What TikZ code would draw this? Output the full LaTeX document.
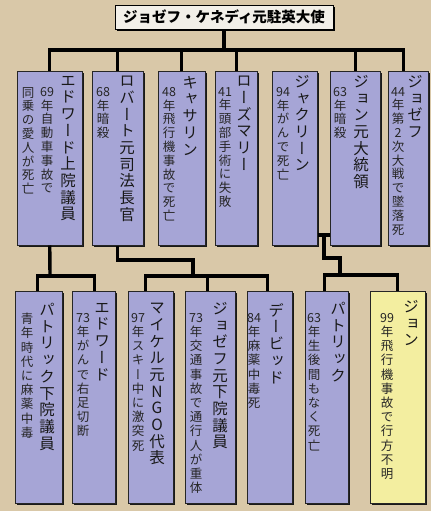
\documentclass[tikz,border=0pt]{standalone}
\usepackage{fontspec}
\newfontfamily\jfont{Noto Sans CJK JP}
\newfontfamily\tfont[RawFeature=+vert]{Noto Sans CJK JP}
\usetikzlibrary{shadows}

\definecolor{paper}{HTML}{D9C8A8}
\definecolor{lav}{HTML}{A6A5D6}
\definecolor{lemon}{HTML}{F3EEA0}
\definecolor{titlebg}{HTML}{F2EFE8}

% vertical (tategaki) column: one character per line
\makeatletter
\newcommand\tate[1]{\vtop{\lineskiplimit=-\maxdimen\lineskip=0pt
  \@tfor\tch:=#1\do{\hbox to 1.3em{\hss\tch\hss}}}}
\makeatother

\tikzset{
  famline/.style={line width=3.4pt},
  kbox/.style={draw=black!85, line width=0.5pt, fill=lav, inner sep=0pt, anchor=north west,
    drop shadow={shadow xshift=2.2pt, shadow yshift=-2.2pt, fill=black!90, opacity=1}},
  kname/.style={anchor=north, inner sep=0pt, text=black!90,
    font=\tfont\fontsize{15.5}{16.7}\selectfont},
  knote/.style={anchor=north, inner sep=0pt, text=black!85,
    font=\tfont\fontsize{12.5}{#1}\selectfont},
  knote/.default=13.8
}

\begin{document}
\begin{tikzpicture}[x=1pt,y=-1pt]
  \fill[paper] (0,0) rectangle (431,511);
  \useasboundingbox (0,0) rectangle (431,511);

  % father
  \node[draw=black, line width=0.6pt, fill=titlebg, minimum width=218, minimum height=24,
    inner sep=0pt, drop shadow={shadow xshift=2.2pt, shadow yshift=-2.2pt, fill=black, opacity=1},
    font=\jfont\bfseries\fontsize{14.5}{16}\selectfont] (title) at (224,17) {ジョゼフ・ケネディ元駐英大使};

  % children
  \node[kbox, minimum width=65, minimum height=174] (edward) at (17,71) {};
  \node[kbox, minimum width=51, minimum height=174] (robert) at (92,71) {};
  \node[kbox, minimum width=47, minimum height=174] (kathleen) at (158,71) {};
  \node[kbox, minimum width=42, minimum height=174] (rosemary) at (215,71) {};
  \node[kbox, minimum width=45, minimum height=174] (jacqueline) at (272,71) {};
  \node[kbox, minimum width=50, minimum height=174] (john) at (330,71) {};
  \node[kbox, minimum width=40, minimum height=174] (joseph) at (388,71) {};

  \node[kname] (edwardN) at (68,76) {\tate{エドワード上院議員}};
  \node[knote] (edwardD) at (47,87) {\tate{{69}年自動車事故で}};
  \node[knote] (edwardE) at (28,87) {\tate{同乗の愛人が死亡}};
  \node[kname] (robertN) at (127,76) {\tate{ロバート元司法長官}};
  \node[knote] (robertD) at (103,87) {\tate{{68}年暗殺}};
  \node[kname] (kathleenN) at (190,76) {\tate{キャサリン}};
  \node[knote] (kathleenD) at (169,87) {\tate{{48}年飛行機事故で死亡}};
  \node[kname] (rosemaryN) at (244,76) {\tate{ローズマリー}};
  \node[knote] (rosemaryD) at (225,87) {\tate{{41}年頭部手術に失敗}};
  \node[kname] (jacquelineN) at (302,75) {\tate{ジャクリーン}};
  \node[knote] (jacquelineD) at (283,87) {\tate{{94}年がんで死亡}};
  \node[kname] (johnN) at (361,75) {\tate{ジョン元大統領}};
  \node[knote] (johnD) at (340,87) {\tate{{63}年暗殺}};
  \node[kname] (josephN) at (415,75) {\tate{ジョゼフ}};
  \node[knote] (josephD) at (398,87) {\tate{{44}年第2次大戦で墜落死}};

  % grandchildren
  \node[kbox, minimum width=47, minimum height=212] (patrick) at (15,291) {};
  \node[kbox, minimum width=43, minimum height=212] (edjr) at (72,291) {};
  \node[kbox, minimum width=45, minimum height=212] (michael) at (128,291) {};
  \node[kbox, minimum width=50, minimum height=212] (joejr) at (185,291) {};
  \node[kbox, minimum width=45, minimum height=212] (david) at (247,291) {};
  \node[kbox, minimum width=43, minimum height=212] (patrick2) at (305,291) {};
  \node[kbox, minimum width=55, minimum height=212, fill=lemon] (johnjr) at (370,291) {};

  \node[kname] (patrickN) at (47,303) {\tate{パトリック下院議員}};
  \node[knote=14.2] (patrickD) at (27,313) {\tate{青年時代に麻薬中毒}};
  \node[kname] (edjrN) at (102,303) {\tate{エドワード}};
  \node[knote=14.2] (edjrD) at (83,313) {\tate{{73}年がんで右足切断}};
  \node[kname] (michaelN) at (157,303) {\tate{マイケル元NGO代表}};
  \node[knote=14.2] (michaelD) at (138,313) {\tate{{97}年スキー中に激突死}};
  \node[kname] (joejrN) at (220,302) {\tate{ジョゼフ元下院議員}};
  \node[knote=14.2] (joejrD) at (196,313) {\tate{{73}年交通事故で通行人が重体}};
  \node[kname] (davidN) at (276,303) {\tate{デービッド}};
  \node[knote=14.2] (davidD) at (254,313) {\tate{{84}年麻薬中毒死}};
  \node[kname] (patrick2N) at (338,302) {\tate{パトリック}};
  \node[knote=14.2] (patrick2D) at (314,313) {\tate{{63}年生後間もなく死亡}};
  \node[kname] (johnjrN) at (411,300) {\tate{ジョン}};
  \node[knote=14.2] (johnjrD) at (387,313) {\tate{{99}年飛行機事故で行方不明}};

  % family lines
  \coordinate (topbar) at (224,50);
  \draw[famline] (title.south) -- (topbar);
  \draw[famline] (edward.north) |- (topbar) -| ([xshift=-5]joseph.north);
  \foreach \k in {robert,kathleen,rosemary,john}
    \draw[famline] (\k.north) -- (\k.north |- topbar);

  \coordinate (ebar) at (50,276);
  \draw[famline] (edward.south) -- (ebar);
  \draw[famline] ([xshift=-1]patrick.north) |- (ebar) -| ([xshift=1]edjr.north);

  \coordinate (rjog) at (193,260);
  \coordinate (rbar) at (193,276);
  \draw[famline] (robert.south) |- (rjog) -- (rbar);
  \draw[famline] ([xshift=-5]michael.north) |- (rbar) -| ([xshift=-2]david.north);
  \draw[famline] ([xshift=-3]joejr.north) -- ([xshift=-3]joejr.north |- rbar);

  \coordinate (wed) at (324,235);
  \coordinate (jjog) at (340,258);
  \coordinate (jbar) at (340,275);
  \draw[famline] (jacqueline.east |- wed) -- (john.west |- wed);
  \draw[famline] (wed) |- (jjog) -- (jbar);
  \draw[famline] ([xshift=-2]patrick2.north) |- (jbar) -| (johnjr.north);
\end{tikzpicture}
\end{document}
